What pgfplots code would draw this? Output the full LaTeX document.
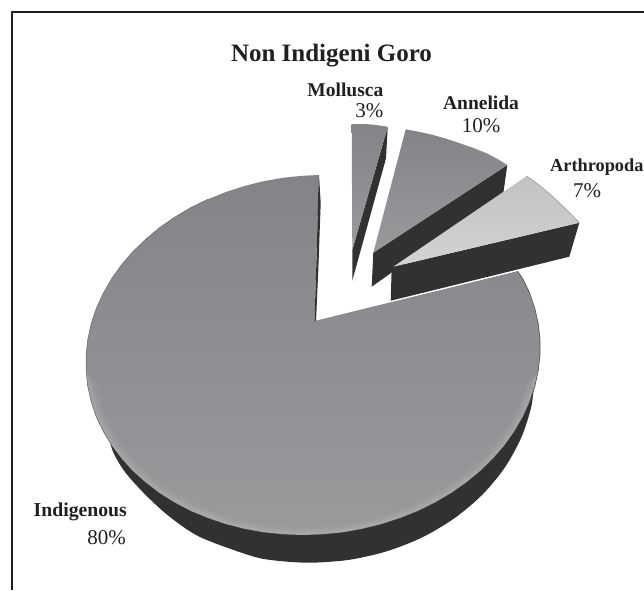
\documentclass[border=0pt]{standalone}
\usepackage{pgfplots}
\pgfplotsset{compat=1.18}
\usepackage{fontspec}
\setmainfont{Liberation Serif}
\definecolor{side}{HTML}{323132}
\definecolor{facetop}{HTML}{838488}
\definecolor{facebot}{HTML}{999A9C}
\definecolor{ink}{HTML}{231F20}
\begin{document}
\begin{tikzpicture}
\useasboundingbox (0,0) rectangle (644pt,590pt);
\begin{axis}[
    at={(0,0)}, anchor=south west,
    width=644pt, height=590pt, scale only axis,
    xmin=0, xmax=644, ymin=0, ymax=590,
    y dir=reverse, hide axis, clip=false,
    every axis plot/.append style={no markers}]

% frame
\addplot[ink, line width=1.1pt] coordinates {(12,590) (12,12) (644,12)};

% side of the big slice
\addplot[draw=none, fill=side, smooth] coordinates {
  (535,372) (531.6,405.1) (521.4,437.2) (504.9,467.4) (482.4,494.6) (454.6,518.1)
  (422.5,537.2) (387,551.2) (349.1,559.8) (310,562.7) (275,560.5) (250,555.5) (200,537)
  (170,517) (146.7,496) (125,472) (112,449) (106,420) (100,380)};

% Indigenous 80%
\addplot[draw=none, top color=facetop, bottom color=facebot] coordinates {
  (314.5,321) (319,175)
  (303.2,175.7) (283.4,177.7) (264,181.1) (244.8,185.9) (226.1,191.9) (208.2,199.1)
  (191,207.5) (174.8,217.1) (159.5,227.7) (145.6,239.3) (132.7,251.8) (121.4,265)
  (111.5,278.9) (103.2,293.4) (96.3,308.4) (91.1,323.8) (87.8,339.3) (86,355)
  (86.1,370.7) (87.7,386.2) (91.2,401.6) (96.2,416.6) (103.1,431.1) (111.4,445)
  (121.3,458.2) (132.6,470.7) (145.5,482.3) (159.4,492.9) (174.6,502.5) (190.8,510.9)
  (208.1,518.1) (226,524.1) (244.6,528.9) (263.8,532.3) (283.2,534.3) (303,535)
  (322.8,534.3) (342.6,532.3) (362,528.9) (381.2,524.1) (399.9,518.1) (417.8,510.9)
  (435,502.5) (451.2,492.9) (466.5,482.3) (480.4,470.7) (493.3,458.2) (504.6,445)
  (514.5,431.1) (522.8,416.6) (529.7,401.6) (534.9,386.2) (538.2,370.7) (540,355)
  (540,339.3) (538.3,323.8) (534.8,308.4) (529.8,293.4) (522.9,278.9) (517.5,271)};

% light rim, lower edge
\addplot[draw=none, fill=white, fill opacity=0.04] coordinates {
  (86.1,370.7) (87.7,386.2) (96.2,416.6) (111.4,445) (132.6,470.7) (159.4,492.9) (190.8,510.9)
  (226,524.1) (263.8,532.3) (303,535) (342.6,532.3) (381.2,524.1) (417.8,510.9) (451.2,492.9)
  (480.4,470.7) (504.6,445) (522.8,416.6) (534.9,386.2) (538.2,370.7)
  (526,385) (514.4,414.1) (496.9,441.4) (473.7,466.1) (446.7,487.4) (413.6,504.7) (378.5,517.3)
  (341.4,525.2) (303.4,527.8) (265.8,525.2) (229.5,517.3) (195.7,504.7) (165.5,487.4) (139.8,466.1)
  (119.5,441.4) (104.9,414.1) (96.7,385)};
\addplot[draw=none, fill=white, fill opacity=0.06] coordinates {
  (86.1,370.7) (87.7,386.2) (96.2,416.6) (111.4,445) (132.6,470.7) (159.4,492.9) (190.8,510.9)
  (226,524.1) (263.8,532.3) (303,535) (342.6,532.3) (381.2,524.1) (417.8,510.9) (451.2,492.9)
  (480.4,470.7) (504.6,445) (522.8,416.6) (534.9,386.2) (538.2,370.7)
  (529,385.4) (517.5,415.1) (500,442.8) (476.3,467.8) (447.7,489.5) (415.3,507) (379.4,519.9)
  (341.9,527.9) (303.2,530.5) (265,527.9) (228.1,519.9) (193.8,507) (163.2,489.5) (136.6,467.8)
  (116,442.8) (101.6,415.1) (93.3,385.4)};
\addplot[draw=none, fill=white, fill opacity=0.07] coordinates {
  (86.1,370.7) (87.7,386.2) (96.2,416.6) (111.4,445) (132.6,470.7) (159.4,492.9) (190.8,510.9)
  (226,524.1) (263.8,532.3) (303,535) (342.6,532.3) (381.2,524.1) (417.8,510.9) (451.2,492.9)
  (480.4,470.7) (504.6,445) (522.8,416.6) (534.9,386.2) (538.2,370.7)
  (532,385.8) (520.2,415.9) (502.3,443.9) (478.4,469.3) (449.5,491.2) (416.5,509) (380.3,522)
  (342.3,530.1) (303.1,532.8) (264.4,530.1) (227,522) (192.3,509) (161.3,491.2) (134.6,469.3)
  (113.7,443.9) (98.9,415.9) (90.5,385.8)};

% edge lines
\addplot[black!60, line width=0.5pt] coordinates {
  (208.2,199.1) (191,207.5) (174.8,217.1) (159.5,227.7) (145.6,239.3) (132.7,251.8) (121.4,265)
  (111.5,278.9) (103.2,293.4) (96.3,308.4) (91.1,323.8) (87.8,339.3) (86,355)
  (86.1,370.7) (87.7,386.2) (91.2,401.6) (96.2,416.6) (103.1,431.1) (111.4,445)};
\addplot[black!70, line width=0.6pt] coordinates {
  (517.5,271) (522.9,278.9) (529.8,293.4) (534.8,308.4) (538.3,323.8) (540,339.3) (540,355)
  (538.2,370.7) (534.9,386.2) (529.7,401.6)};

% inner wall of the big slice
\addplot[draw=none, fill=side] coordinates {
  (319,175.5) (320.7,203) (318.3,270) (316,321) (314.5,321) (316.7,253) (318.3,190)};

% white seam under the Arthropoda wall
\addplot[white, line width=0.8pt] coordinates {(390.5,301.5) (517.5,270.5)};

% Mollusca 3%
\addplot[draw=none, fill=side] coordinates {
  (387.7,126.7) (386,158.3) (352.3,280.7) (352.3,250)};
\addplot[draw=none, top color=facetop, bottom color=facebot] coordinates {
  (351.7,124) (360,124) (370,124.3) (380,125.6) (387.7,126.7) (352.3,250)};

% Annelida 10%
\addplot[draw=none, fill=side] coordinates {
  (507.3,165) (503.3,193.3) (371.7,286.7) (373.3,252.7)};
\addplot[draw=none, top color=facetop, bottom color=facebot] coordinates {
  (405.7,129.3) (420,132) (433.3,135) (447,139) (460,143.3) (473.5,148) (486.7,153.3)
  (497,158.7) (507.3,165) (373.3,252.7)};

% Arthropoda 7%
\addplot[draw=none, fill=side] coordinates {
  (579.3,222.7) (569.3,256.7) (390.7,300.7) (391.7,267.3) (393.3,266.7)};
\addplot[draw=none, top color=black!24, bottom color=black!17] coordinates {
  (526.7,176) (535,182) (543.3,188.3) (553.5,197.3) (563.3,206.7) (571.5,214.7) (579.3,222.7)
  (393.3,266.7)};
\addplot[black!40, line width=0.6pt] coordinates {
  (526.7,176) (535,182) (543.3,188.3) (553.5,197.3) (563.3,206.7) (571.5,214.7) (579.3,222.7)};

% labels
\node[anchor=base, inner sep=0pt, font=\fontsize{25}{25}\selectfont\bfseries, text=ink] at (axis cs:331.5,61) {Non Indigeni Goro};
\node[anchor=base east, inner sep=0pt, font=\fontsize{19.5}{20}\selectfont\bfseries, text=ink] at (axis cs:383.5,96.5) {Mollusca};
\node[anchor=base east, inner sep=0pt, font=\fontsize{21}{21}\selectfont, text=ink] at (axis cs:383.5,117) {3\%};
\node[anchor=base, inner sep=0pt, font=\fontsize{19.5}{20}\selectfont\bfseries, text=ink] at (axis cs:481,109) {Annelida};
\node[anchor=base, inner sep=0pt, font=\fontsize{21}{21}\selectfont, text=ink] at (axis cs:481,132) {10\%};
\node[anchor=base west, inner sep=0pt, font=\fontsize{18.3}{20}\selectfont\bfseries, text=ink] at (axis cs:550,171) {Arthropoda};
\node[anchor=base, inner sep=0pt, font=\fontsize{21}{21}\selectfont, text=ink] at (axis cs:587,197.5) {7\%};
\node[anchor=base east, inner sep=0pt, font=\fontsize{19.7}{20}\selectfont\bfseries, text=ink] at (axis cs:127,516.5) {Indigenous};
\node[anchor=base east, inner sep=0pt, font=\fontsize{21}{21}\selectfont, text=ink] at (axis cs:126,544) {80\%};
\end{axis}
\end{tikzpicture}
\end{document}
